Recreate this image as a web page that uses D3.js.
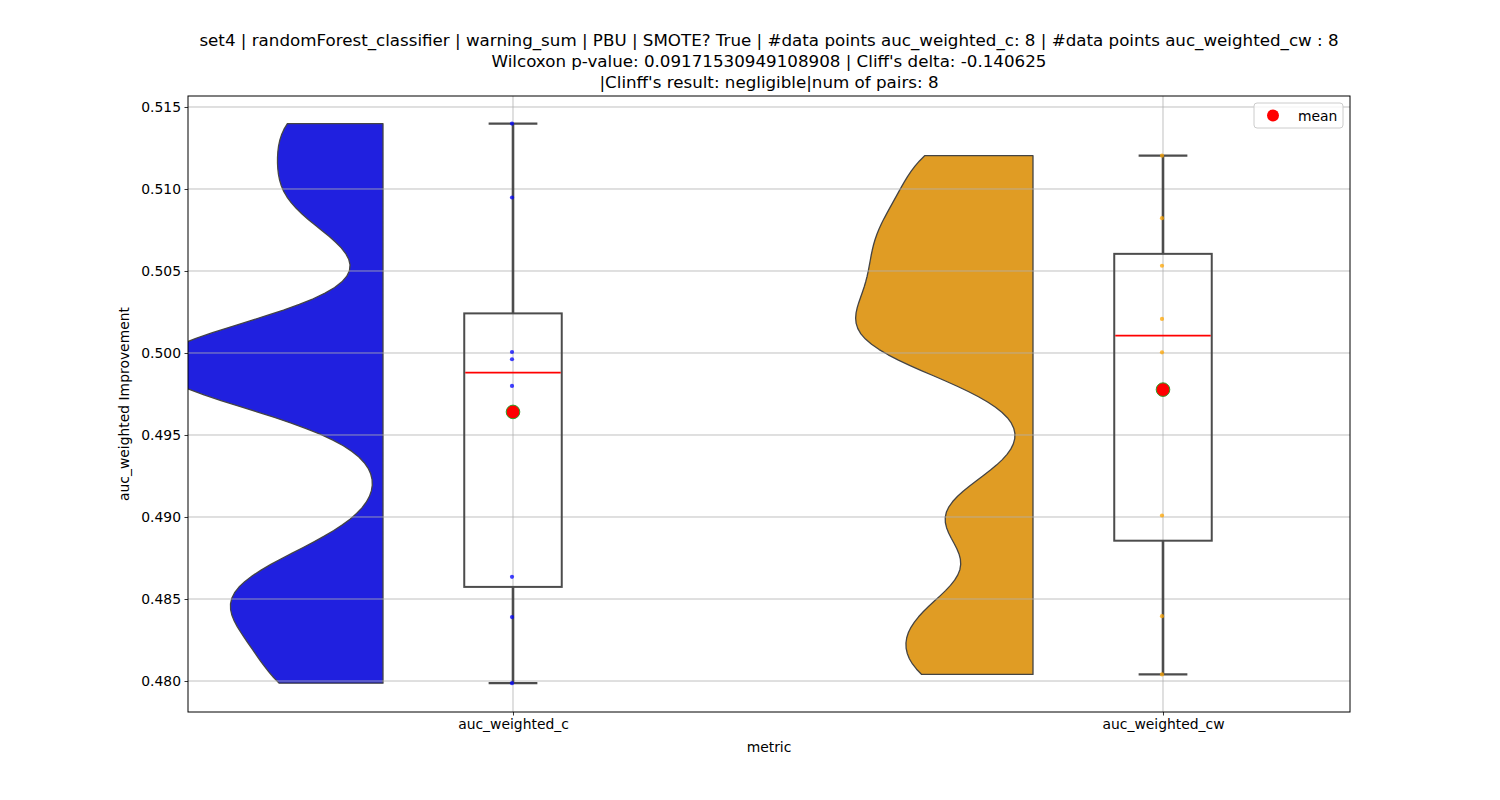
<!DOCTYPE html>
<html><head><meta charset="utf-8">
<script src="https://cdn.jsdelivr.net/npm/d3@7"></script>
<style>body{margin:0;background:#fff;font-family:"DejaVu Sans",sans-serif;}</style>
</head><body><svg id="c" width="1500" height="800"></svg>
<script>
const categories = ["auc_weighted_c", "auc_weighted_cw"];
const valuesC  = [0.51399, 0.50948, 0.50006, 0.49962, 0.49799, 0.48635, 0.48390, 0.47987];
const valuesCW = [0.51203, 0.50822, 0.50532, 0.50208, 0.50004, 0.49009, 0.48395, 0.48040];
const yTicks = [0.480, 0.485, 0.490, 0.495, 0.500, 0.505, 0.510, 0.515];
const titleLines = [
  "set4 | randomForest_classifier | warning_sum | PBU | SMOTE? True | #data points auc_weighted_c: 8 | #data points auc_weighted_cw : 8",
  "Wilcoxon p-value: 0.09171530949108908 | Cliff's delta: -0.140625",
  "|Clinff's result: negligible|num of pairs: 8"
];
const violinColors = ["#2020df", "#e09c24"];
const pointColors = ["#0000ff", "#ffa500"];
const xLim = [-0.5, 1.2877];
const yLim = [0.47811, 0.51567];

const svg = d3.select("#c");
const L = 188, R = 1350, T = 96, B = 712;
const x = d3.scaleLinear().domain(xLim).range([L, R]);
const y = d3.scaleLinear().domain(yLim).range([B, T]);
const unit = x(1) - x(0);

svg.append("defs").append("clipPath").attr("id","clip")
  .append("rect").attr("x",L).attr("y",T).attr("width",R-L).attr("height",B-T);

const data = [valuesC, valuesCW];

// KDE like scipy gaussian_kde with scalar bw factor
function kde(vals, factor, grid) {
  const n = vals.length;
  const sd = d3.deviation(vals);
  const h = factor * sd;
  const lo = d3.min(vals), hi = d3.max(vals);
  const pts = [];
  for (let i = 0; i < grid; i++) {
    const t = lo + (hi - lo) * i / (grid - 1);
    let s = 0;
    for (const v of vals) { const z = (t - v) / h; s += Math.exp(-0.5 * z * z); }
    pts.push([t, s / (n * h * Math.sqrt(2 * Math.PI))]);
  }
  return pts;
}
const dens = data.map(v => kde(v, 0.2, 100));
const gmax = d3.max(dens, d => d3.max(d, p => p[1]));
const halfW = 0.35 * unit;

const plot = svg.append("g").attr("clip-path","url(#clip)");

// violins (left halves)
dens.forEach((d, i) => {
  const cx = x(i - 0.2);
  const area = d3.area()
    .y(p => y(p[0]))
    .x0(p => cx - p[1] / gmax * halfW)
    .x1(() => cx)
    .curve(d3.curveLinear);
  plot.append("path").datum(d).attr("d", area)
    .attr("fill", violinColors[i]).attr("stroke", "#444").attr("stroke-width", 1.3)
    .attr("stroke-linejoin","round");
});

// grid
const grid = svg.append("g");
yTicks.forEach(t => grid.append("line").attr("x1",L).attr("x2",R).attr("y1",y(t)).attr("y2",y(t))
  .attr("stroke","#b0b0b0").attr("stroke-width",0.8));
categories.forEach((c,i) => grid.append("line").attr("x1",x(i)).attr("x2",x(i)).attr("y1",T).attr("y2",B)
  .attr("stroke","#b0b0b0").attr("stroke-width",0.8));

// boxplots
const boxW = 0.15 * unit, capW = 0.075 * unit;
data.forEach((vals, i) => {
  const s = vals.slice().sort(d3.ascending);
  const q1 = d3.quantile(s, 0.25), q3 = d3.quantile(s, 0.75), med = d3.quantile(s, 0.5);
  const iqr = q3 - q1;
  const lo = d3.min(s.filter(v => v >= q1 - 1.5 * iqr)), hi = d3.max(s.filter(v => v <= q3 + 1.5 * iqr));
  const cx = x(i);
  const g = svg.append("g");
  g.append("line").attr("x1",cx).attr("x2",cx).attr("y1",y(q3)).attr("y2",y(hi)).attr("stroke","#4c4c4c").attr("stroke-width",2.6);
  g.append("line").attr("x1",cx).attr("x2",cx).attr("y1",y(q1)).attr("y2",y(lo)).attr("stroke","#4c4c4c").attr("stroke-width",2.6);
  [lo, hi].forEach(v => g.append("line").attr("x1",cx-capW/2).attr("x2",cx+capW/2).attr("y1",y(v)).attr("y2",y(v))
    .attr("stroke","#4c4c4c").attr("stroke-width",2.2));
  g.append("rect").attr("x",cx-boxW/2).attr("y",y(q3)).attr("width",boxW).attr("height",y(q1)-y(q3))
    .attr("fill","none").attr("stroke","#4c4c4c").attr("stroke-width",2);
  g.append("line").attr("x1",cx-boxW/2+1).attr("x2",cx+boxW/2-1).attr("y1",y(med)).attr("y2",y(med))
    .attr("stroke","#ff0000").attr("stroke-width",1.8);
  // points
  vals.forEach(v => g.append("circle").attr("cx",cx-1).attr("cy",y(v)).attr("r",2.1)
    .attr("fill",pointColors[i]).attr("opacity",0.75));
  // mean
  g.append("circle").attr("cx",cx).attr("cy",y(d3.mean(vals))).attr("r",6.8)
    .attr("fill","#ff0000").attr("stroke","#2ca02c").attr("stroke-width",1);
});

// axes frame
svg.append("rect").attr("x",L).attr("y",T).attr("width",R-L).attr("height",B-T)
  .attr("fill","none").attr("stroke","#000").attr("stroke-width",1);

const yAxis = svg.append("g").attr("transform",`translate(${L},0)`)
  .call(d3.axisLeft(y).tickValues(yTicks).tickFormat(d3.format(".3f")).tickSize(3.5).tickPadding(3.5));
const xAxis = svg.append("g").attr("transform",`translate(0,${B})`)
  .call(d3.axisBottom(d3.scaleOrdinal().domain(categories).range(categories.map((c,i)=>x(i))))
    .tickSize(3.5).tickPadding(3.5));
[yAxis, xAxis].forEach(a => {
  a.select(".domain").remove();
  a.selectAll("text").attr("font-family","DejaVu Sans").attr("font-size","13.9px").attr("fill","#000");
  a.selectAll("line").attr("stroke","#000").attr("stroke-width",0.8);
});

// labels
svg.append("text").attr("x",(L+R)/2).attr("y",752).attr("text-anchor","middle")
  .attr("font-size","13.9px").text("metric");
svg.append("text").attr("transform",`translate(129,${(T+B)/2}) rotate(-90)`).attr("text-anchor","middle")
  .attr("font-size","13.9px").text("auc_weighted Improvement");

titleLines.forEach((t,k) => svg.append("text").attr("x",(L+R)/2).attr("y",46 + k*21).attr("text-anchor","middle")
  .attr("font-size","16.7px").text(t));

// legend
const lg = svg.append("g");
lg.append("rect").attr("x",1254).attr("y",103).attr("width",89).attr("height",25).attr("rx",3)
  .attr("fill","#fff").attr("fill-opacity",0.8).attr("stroke","#cccccc").attr("stroke-width",1);
lg.append("circle").attr("cx",1273).attr("cy",115.5).attr("r",6).attr("fill","#ff0000");
lg.append("text").attr("x",1298).attr("y",120.5).attr("font-size","13.9px").text("mean");
</script></body></html>
